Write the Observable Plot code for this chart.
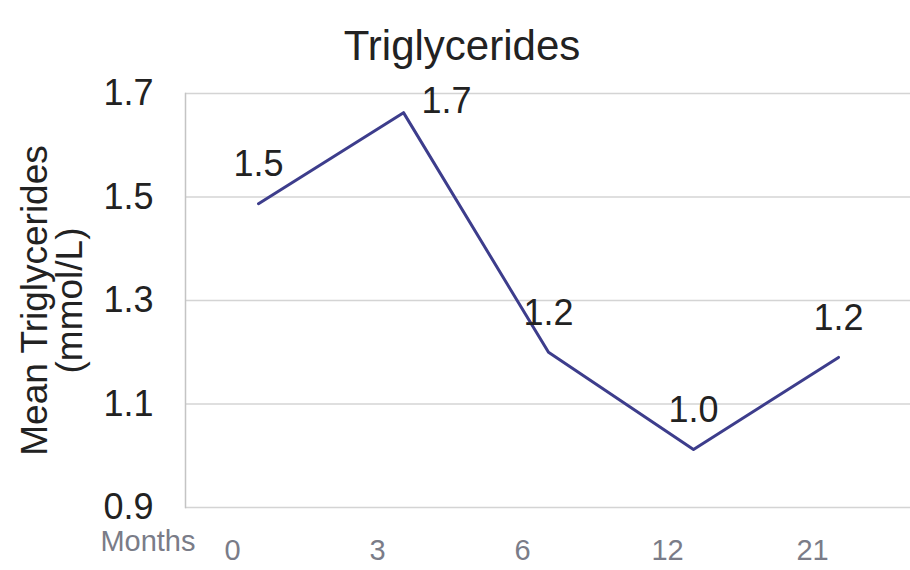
<!DOCTYPE html>
<html>
<head>
<meta charset="utf-8">
<script src="https://cdn.jsdelivr.net/npm/d3@7"></script>
<script src="https://cdn.jsdelivr.net/npm/@observablehq/plot@0.6"></script>
<style>
  html, body { margin: 0; padding: 0; background: #fff; }
  #chart { width: 910px; height: 570px; }
</style>
</head>
<body>
<div id="chart"></div>
<script>
const months = ["0", "3", "6", "12", "21"];
const values = [1.487, 1.663, 1.2, 1.012, 1.19];
const labels = ["1.5", "1.7", "1.2", "1.0", "1.2"];
const yTicks = [0.9, 1.1, 1.3, 1.5, 1.7];
const title = "Triglycerides";
const yTitle = ["Mean Triglycerides", "(mmol/L)"];
const xTitle = "Months";

const data = months.map((m, i) => ({month: m, value: values[i], label: labels[i]}));
const font = "'Liberation Sans', Arial, sans-serif";

const chart = Plot.plot({
  width: 910,
  height: 570,
  marginLeft: 185,
  marginRight: 0,
  marginTop: 93,
  marginBottom: 63,
  style: {fontFamily: font, background: "#fff", overflow: "visible"},
  x: {type: "point", domain: months, padding: 0.5},
  y: {domain: [0.9, 1.7]},
  marks: [
    Plot.gridY(yTicks, {stroke: "#d4d4d4", strokeOpacity: 1, strokeWidth: 1.5}),
    Plot.frame({anchor: "left", stroke: "#c4c4c4", strokeWidth: 1.5}),
    Plot.axisY(yTicks, {tickSize: 0, tickPadding: 32, tickFormat: d3.format(".1f"), fontSize: 36, fill: "#222", label: null}),
    Plot.axisX({tickSize: 0, tickPadding: 32, dx: -26, fontSize: 29, fill: "#7a7c88", label: null}),
    Plot.line(data, {x: "month", y: "value", stroke: "#3d3d8c", strokeWidth: 3}),
    Plot.text(data.filter(d => d.month !== "3"), {x: "month", y: "value", text: "label", dy: -39, fontSize: 36, fill: "#222"}),
    Plot.text(data.filter(d => d.month === "3"), {x: "month", y: "value", text: "label", dx: 43, dy: -11, fontSize: 36, fill: "#222"}),
    Plot.text([title], {frameAnchor: "top", textAnchor: "middle", dx: -86, dy: -63, fontSize: 42, fill: "#222"}),
    Plot.text([xTitle], {frameAnchor: "bottom-left", textAnchor: "end", dx: 10, dy: 43, fontSize: 29, fill: "#7a7c88"}),
    Plot.text([yTitle[0]], {frameAnchor: "left", textAnchor: "middle", rotate: -90, dx: -150, fontSize: 37, fill: "#222"}),
    Plot.text([yTitle[1]], {frameAnchor: "left", textAnchor: "middle", rotate: -90, dx: -115, fontSize: 37, fill: "#222"})
  ]
});
document.getElementById("chart").appendChild(chart);
</script>
</body>
</html>
